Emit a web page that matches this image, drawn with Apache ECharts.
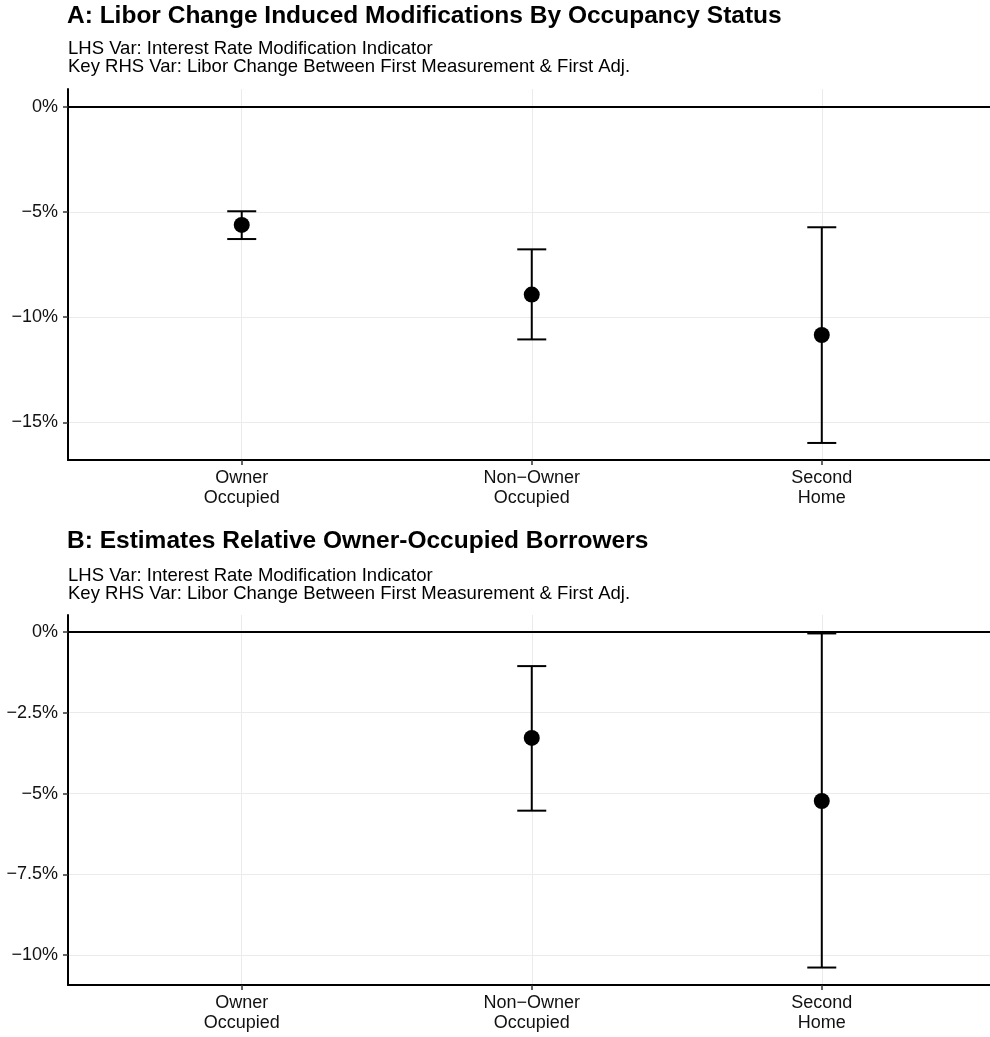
<!DOCTYPE html>
<html>
<head>
<meta charset="utf-8">
<script src="https://cdn.jsdelivr.net/npm/echarts@6/dist/echarts.min.js"></script>
<style>
html,body{margin:0;padding:0;background:#fff;}
#chart{width:990px;height:1037px;}
</style>
</head>
<body>
<div id="chart"></div>
<script>
// ---- Data ----
const categories = ['Owner\nOccupied', 'Non\u2212Owner\nOccupied', 'Second\nHome'];
const catPositions = [1, 2, 3];

// Panel A: Libor change induced modifications by occupancy status (%)
const panelA_est = [-5.62, -8.93, -10.85];
const panelA_lo  = [-6.29, -11.06, -15.98];
const panelA_hi  = [-4.97, -6.78, -5.73];

// Panel B: estimates relative to owner-occupied borrowers (%)
const panelB_est = [null, -3.28, -5.23];
const panelB_lo  = [null, -5.53, -10.38];
const panelB_hi  = [null, -1.06, -0.05];

const yTicksA = [-15, -10, -5, 0];
const yTicksB = [-10, -7.5, -5, -2.5, 0];

const titleA = 'A: Libor Change Induced Modifications By Occupancy Status';
const titleB = 'B: Estimates Relative Owner-Occupied Borrowers';
const subLines = ['LHS Var: Interest Rate Modification Indicator',
                  'Key RHS Var: Libor Change Between First Measurement & First Adj.'];

// ---- Chart ----
const FONT = 'Liberation Sans, Arial, Helvetica, sans-serif';
const TXT = '#111';

function pctLabel(v) {
  const a = Math.abs(v);
  return (v < 0 ? '\u2212' : '') + a + '%';
}

function pointData(est) {
  return catPositions.map((x, i) => est[i] == null ? null : [x, est[i]]).filter(d => d);
}
function barData(lo, hi) {
  return catPositions.map((x, i) => lo[i] == null ? null : [x, lo[i], hi[i]]).filter(d => d);
}

function errorRender(params, api) {
  const x = api.value(0);
  const pLo = api.coord([x, api.value(1)]);
  const pHi = api.coord([x, api.value(2)]);
  const hw = 14.5;
  const style = {stroke: '#000', lineWidth: 2};
  return {
    type: 'group',
    children: [
      {type: 'line', shape: {x1: pLo[0], y1: pLo[1], x2: pHi[0], y2: pHi[1]}, style: style},
      {type: 'line', shape: {x1: pLo[0] - hw, y1: pLo[1], x2: pLo[0] + hw, y2: pLo[1]}, style: style},
      {type: 'line', shape: {x1: pHi[0] - hw, y1: pHi[1], x2: pHi[0] + hw, y2: pHi[1]}, style: style}
    ]
  };
}

function xAxisCfg(gridIndex) {
  return {
    type: 'value', gridIndex: gridIndex, min: 0.401, max: 3.58,
    axisLine: {show: true, onZero: false, lineStyle: {color: '#000', width: 2}},
    axisTick: {show: true, length: 5, lineStyle: {color: '#333', width: 1.5}, customValues: catPositions},
    axisLabel: {
      show: true, customValues: catPositions, margin: 8,
      formatter: v => categories[Math.round(v) - 1] || '',
      fontSize: 18, lineHeight: 20, color: TXT, fontFamily: FONT
    },
    splitLine: {show: true, lineStyle: {color: '#ebebeb', width: 1}}
  };
}
function yAxisCfg(gridIndex, min, max, ticks) {
  return {
    type: 'value', gridIndex: gridIndex, min: min, max: max,
    axisLine: {show: true, onZero: false, lineStyle: {color: '#000', width: 2}},
    axisTick: {show: true, length: 5, lineStyle: {color: '#333', width: 1.5}, customValues: ticks},
    axisLabel: {
      show: true, customValues: ticks, margin: 10, formatter: pctLabel,
      fontSize: 18, color: TXT, fontFamily: FONT
    },
    splitLine: {show: true, lineStyle: {color: '#ebebeb', width: 1}}
  };
}

const zeroLine = {
  silent: true, symbol: ['none', 'none'], label: {show: false},
  lineStyle: {color: '#000', width: 2, type: 'solid'},
  data: [{yAxis: 0}]
};

const option = {
  backgroundColor: '#fff',
  animation: false,
  title: [
    {text: titleA, left: 67, top: 4, padding: 0,
     textStyle: {fontSize: 24.5, lineHeight: 25, fontWeight: 'bold', color: '#000', fontFamily: FONT}},
    {text: subLines.join('\n'), left: 68, top: 40, padding: 0,
     textStyle: {fontSize: 18.5, lineHeight: 18, fontWeight: 'normal', color: '#000', fontFamily: FONT}},
    {text: titleB, left: 67, top: 529, padding: 0,
     textStyle: {fontSize: 24.5, lineHeight: 25, fontWeight: 'bold', color: '#000', fontFamily: FONT}},
    {text: subLines.join('\n'), left: 68, top: 566.5, padding: 0,
     textStyle: {fontSize: 18.5, lineHeight: 18, fontWeight: 'normal', color: '#000', fontFamily: FONT}}
  ],
  grid: [
    {left: 68, top: 89, right: 0, height: 371},
    {left: 68, top: 615, right: 0, height: 370}
  ],
  xAxis: [xAxisCfg(0), xAxisCfg(1)],
  yAxis: [yAxisCfg(0, -16.79, 0.84, yTicksA), yAxisCfg(1, -10.92, 0.52, yTicksB)],
  series: [
    {type: 'custom', xAxisIndex: 0, yAxisIndex: 0, renderItem: errorRender,
     data: barData(panelA_lo, panelA_hi), z: 3, markLine: zeroLine},
    {type: 'scatter', xAxisIndex: 0, yAxisIndex: 0, symbol: 'circle', symbolSize: 16,
     itemStyle: {color: '#000', opacity: 1}, data: pointData(panelA_est), z: 4},
    {type: 'custom', xAxisIndex: 1, yAxisIndex: 1, renderItem: errorRender,
     data: barData(panelB_lo, panelB_hi), z: 3, markLine: zeroLine},
    {type: 'scatter', xAxisIndex: 1, yAxisIndex: 1, symbol: 'circle', symbolSize: 16,
     itemStyle: {color: '#000', opacity: 1}, data: pointData(panelB_est), z: 4}
  ]
};

const chart = echarts.init(document.getElementById('chart'), null, {renderer: 'canvas'});
chart.setOption(option);
</script>
</body>
</html>
